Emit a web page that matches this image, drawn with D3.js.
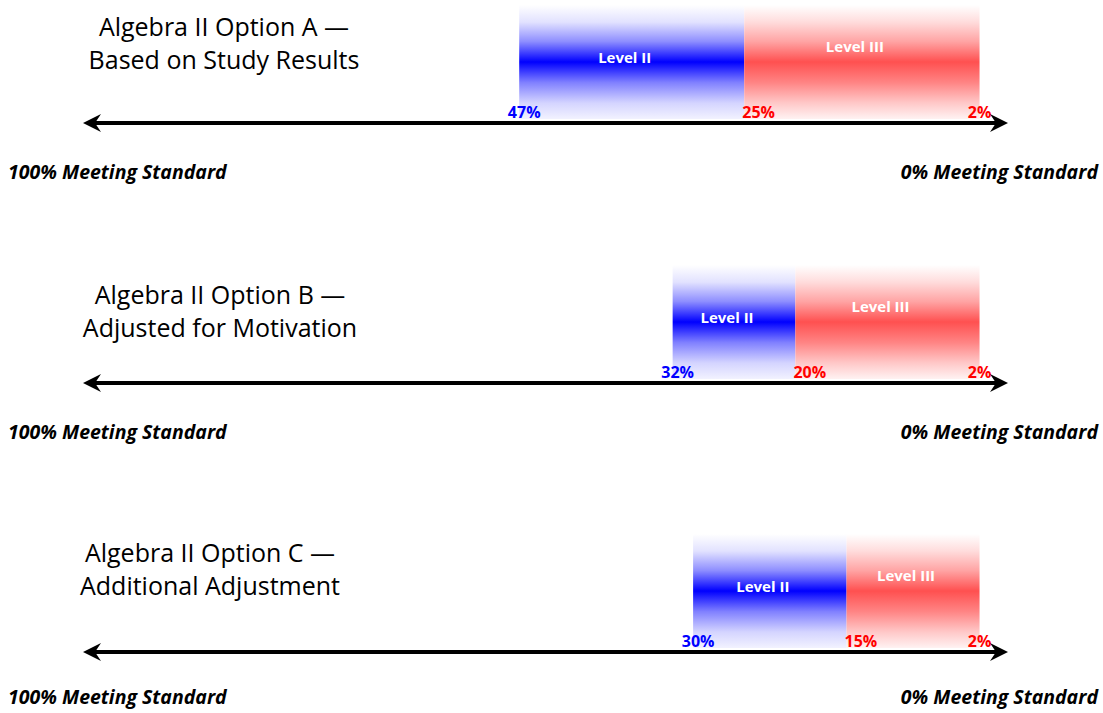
<!DOCTYPE html>
<html>
<head>
<meta charset="utf-8">
<script src="https://cdn.jsdelivr.net/npm/d3@7"></script>
<style>
  html, body { margin: 0; padding: 0; background: #fff; }
  svg { display: block; }
</style>
</head>
<body>
<svg id="chart" width="1103" height="713"></svg>
<script>
// ---- data ----
const titleLine1 = ["Algebra II Option A \u2014", "Algebra II Option B \u2014", "Algebra II Option C \u2014"];
const titleLine2 = ["Based on Study Results", "Adjusted for Motivation", "Additional Adjustment"];
const levelIIStart = [47, 32, 30];   // % meeting standard where Level II begins
const levelIIIStart = [25, 20, 15];  // % where Level III begins
const levelIIIEnd = [2, 2, 2];       // % where Level III ends
const levelNames = ["Level II", "Level III"];
const axisLabels = ["100% Meeting Standard", "0% Meeting Standard"];

// ---- layout (not data) ----
const panelTop = [5, 265, 534];
const titleOffset = [31, 39, 28];
const titleX = [224, 220, 210];
const labelOffset = [56, 56, 52];
const barHeight = 114;
const axisGap = 4;

const svg = d3.select("#chart");
const defs = svg.append("defs");

function vGrad(id, stops) {
  const g = defs.append("linearGradient").attr("id", id)
    .attr("x1", 0).attr("y1", 0).attr("x2", 0).attr("y2", 1);
  stops.forEach(s => g.append("stop").attr("offset", s[0]).attr("stop-color", s[1]));
}
vGrad("gBlue", [[0, "#ffffff"], [0.15, "#e2e2ff"], [0.32, "#8e8eff"], [0.5, "#0000ff"], [0.68, "#8080ff"], [0.86, "#d4d4ff"], [1, "#f2f2ff"]]);
vGrad("gRed", [[0, "#ffffff"], [0.15, "#ffdcdc"], [0.32, "#ffa4a4"], [0.5, "#ff5050"], [0.68, "#ff8484"], [0.86, "#ffc8c8"], [1, "#fff2f2"]]);

// horizontal scale: % meeting standard, decreasing to the right
const x = d3.scaleLinear().domain([0, 100]).range([1000, -23]);

const font = "'Open Sans', 'Noto Sans', sans-serif";

titleLine1.forEach((t, i) => {
  const g = svg.append("g").attr("transform", `translate(0,${panelTop[i]})`);
  const axisY = barHeight + axisGap;

  // title
  g.append("text").attr("x", titleX[i]).attr("y", titleOffset[i])
    .attr("text-anchor", "middle").attr("font-family", font)
    .attr("font-size", 25).attr("fill", "#000").text(t);
  g.append("text").attr("x", titleX[i]).attr("y", titleOffset[i] + 33)
    .attr("text-anchor", "middle").attr("font-family", font)
    .attr("font-size", 25).attr("fill", "#000").text(titleLine2[i]);

  // bars
  const segs = [
    { name: levelNames[0], from: levelIIStart[i], to: levelIIIStart[i], fill: "url(#gBlue)", ty: 0.5 },
    { name: levelNames[1], from: levelIIIStart[i], to: levelIIIEnd[i], fill: "url(#gRed)", ty: 0.4 }
  ];
  g.selectAll("rect.seg").data(segs).join("rect").attr("class", "seg")
    .attr("x", d => x(d.from)).attr("y", 0)
    .attr("width", d => x(d.to) - x(d.from)).attr("height", barHeight)
    .attr("fill", d => d.fill);
  g.selectAll("text.lvl").data(segs).join("text").attr("class", "lvl")
    .attr("x", d => (x(d.from) + x(d.to)) / 2 - 7)
    .attr("y", d => barHeight * d.ty - 4)
    .attr("dy", "0.35em")
    .attr("text-anchor", "middle").attr("font-family", font)
    .attr("font-weight", 700).attr("font-size", 15).attr("fill", "#fff")
    .text(d => d.name);

  // percent labels
  const pl = [
    { v: levelIIStart[i], color: "#0000ff", anchor: "middle", dx: 5 },
    { v: levelIIIStart[i], color: "#ff0000", anchor: "start", dx: -2 },
    { v: levelIIIEnd[i], color: "#ff0000", anchor: "middle", dx: 0 }
  ];
  g.selectAll("text.pct").data(pl).join("text").attr("class", "pct")
    .attr("x", d => x(d.v) + d.dx).attr("y", axisY - 5)
    .attr("text-anchor", d => d.anchor).attr("font-family", font)
    .attr("font-weight", 700).attr("font-size", 16).attr("fill", d => d.color)
    .text(d => d.v + "%");

  // double arrow axis
  const xl = 83, xr = 1008;
  g.append("line").attr("x1", xl + 8).attr("x2", xr - 8)
    .attr("y1", axisY).attr("y2", axisY)
    .attr("stroke", "#000").attr("stroke-width", 4);
  g.append("path")
    .attr("d", `M${xl},${axisY} L${xl + 18},${axisY - 9} L${xl + 12},${axisY} L${xl + 18},${axisY + 9} Z`)
    .attr("fill", "#000");
  g.append("path")
    .attr("d", `M${xr},${axisY} L${xr - 18},${axisY - 9} L${xr - 12},${axisY} L${xr - 18},${axisY + 9} Z`)
    .attr("fill", "#000");

  // end labels
  g.append("text").attr("x", 8).attr("y", axisY + labelOffset[i])
    .attr("font-family", font).attr("font-weight", 700).attr("font-style", "italic")
    .attr("font-size", 19.5).attr("fill", "#000").text(axisLabels[0]);
  g.append("text").attr("x", 1098).attr("y", axisY + labelOffset[i]).attr("text-anchor", "end")
    .attr("font-family", font).attr("font-weight", 700).attr("font-style", "italic")
    .attr("font-size", 19.5).attr("fill", "#000").text(axisLabels[1]);
});
</script>
</body>
</html>
